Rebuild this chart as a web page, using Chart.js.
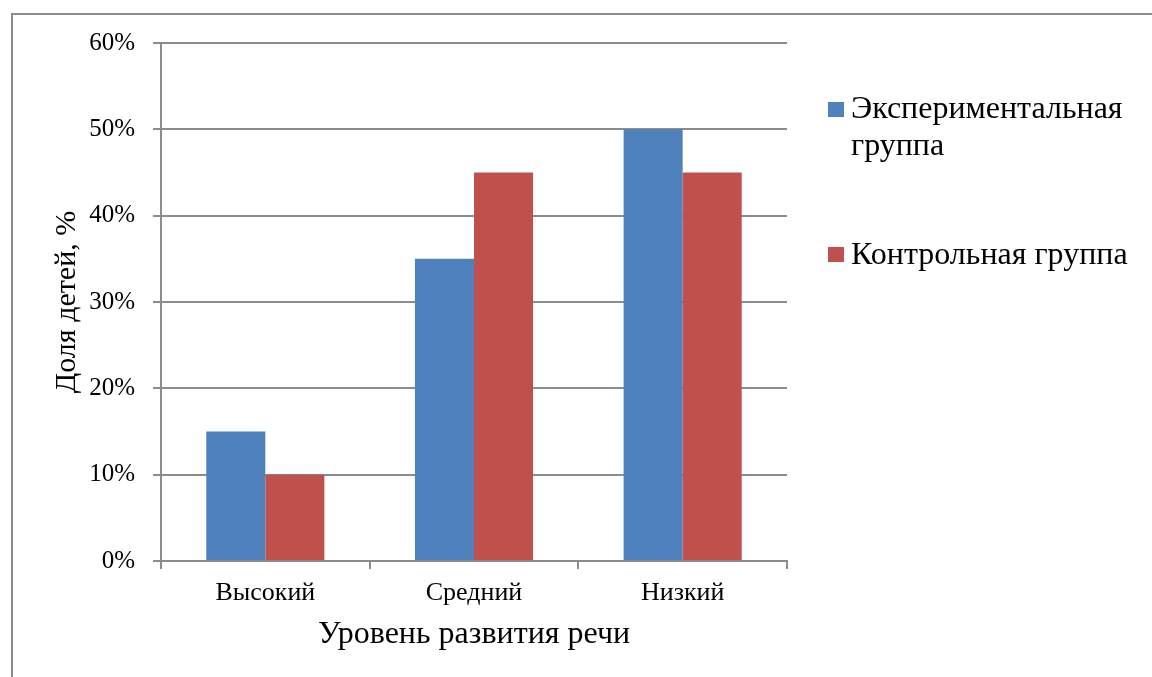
<!DOCTYPE html>
<html>
<head>
<meta charset="utf-8">
<script src="https://cdn.jsdelivr.net/npm/chart.js@4/dist/chart.umd.min.js"></script>
<style>
html,body{margin:0;padding:0;background:#fff;}
#wrap{width:1152px;height:677px;position:relative;}
</style>
</head>
<body>
<div id="wrap"><canvas id="c" width="1152" height="677"></canvas></div>
<script>
const categories = ["Высокий", "Средний", "Низкий"];
const seriesNames = ["Экспериментальная группа", "Контрольная группа"];
const experimental = [15, 35, 50];
const control = [10, 45, 45];
const yTicks = [0, 10, 20, 30, 40, 50, 60];
const xTitle = "Уровень развития речи";
const yTitle = "Доля детей, %";

const SERIF = "'Liberation Serif', 'Times New Roman', serif";
const colors = ["#4F81BD", "#C0504D"];

const framePlugin = {
  id: 'frame',
  beforeDraw(chart) {
    const ctx = chart.ctx;
    ctx.save();
    ctx.fillStyle = '#fff';
    ctx.fillRect(0, 0, chart.width, chart.height);
    ctx.strokeStyle = '#8c8c8c';
    ctx.lineWidth = 2;
    ctx.beginPath();
    ctx.moveTo(12, chart.height + 5);
    ctx.lineTo(12, 14);
    ctx.lineTo(chart.width + 5, 14);
    ctx.stroke();
    ctx.restore();
  }
};

const legendPlugin = {
  id: 'customLegend',
  afterDraw(chart) {
    const ctx = chart.ctx;
    ctx.save();
    ctx.font = "32px " + SERIF;
    ctx.textBaseline = 'alphabetic';
    const items = [
      {lines: ["Экспериментальная", "группа"], sq: 102, base: 118},
      {lines: ["Контрольная группа"], sq: 247, base: 264}
    ];
    chart.data.datasets.forEach((ds, i) => {
      const it = items[i];
      ctx.fillStyle = ds.backgroundColor;
      ctx.fillRect(828, it.sq, 16, 15);
      ctx.fillStyle = '#000';
      it.lines.forEach((ln, j) => {
        ctx.fillText(ln, 851, it.base + j * 37);
      });
    });
    ctx.restore();
  }
};

new Chart(document.getElementById('c'), {
  type: 'bar',
  data: {
    labels: categories,
    datasets: [
      {label: seriesNames[0], data: experimental, backgroundColor: colors[0]},
      {label: seriesNames[1], data: control, backgroundColor: colors[1]}
    ]
  },
  plugins: [framePlugin, legendPlugin],
  options: {
    responsive: false,
    animation: false,
    devicePixelRatio: 1,
    layout: {padding: {left: 0, top: 43, right: 365, bottom: 0}},
    datasets: {bar: {categoryPercentage: 0.566, barPercentage: 1.0}},
    plugins: {legend: {display: false}, tooltip: {enabled: false}},
    scales: {
      x: {
        afterFit(s) { s.height = 116; },
        grid: {display: true, drawOnChartArea: false, drawTicks: true, tickLength: 8, color: '#8c8c8c', lineWidth: 2, offset: true},
        border: {display: true, color: '#8c8c8c', width: 2},
        ticks: {color: '#000', font: {family: SERIF, size: 26}, padding: 9},
        title: {display: true, text: xTitle, color: '#000', font: {family: SERIF, size: 32}, padding: {top: 0, bottom: 23}}
      },
      y: {
        min: 0, max: 60,
        afterFit(s) { s.width = 161; },
        afterBuildTicks(s) { s.ticks = yTicks.map(v => ({value: v})); },
        grid: {color: '#8c8c8c', lineWidth: 2, tickLength: 8, drawTicks: true},
        border: {display: true, color: '#8c8c8c', width: 2},
        ticks: {color: '#000', font: {family: SERIF, size: 25}, padding: 18, callback: v => v + '%'},
        title: {display: true, text: yTitle, color: '#000', font: {family: SERIF, size: 30}, padding: {top: 49, bottom: 0}}
      }
    }
  }
});
</script>
</body>
</html>
